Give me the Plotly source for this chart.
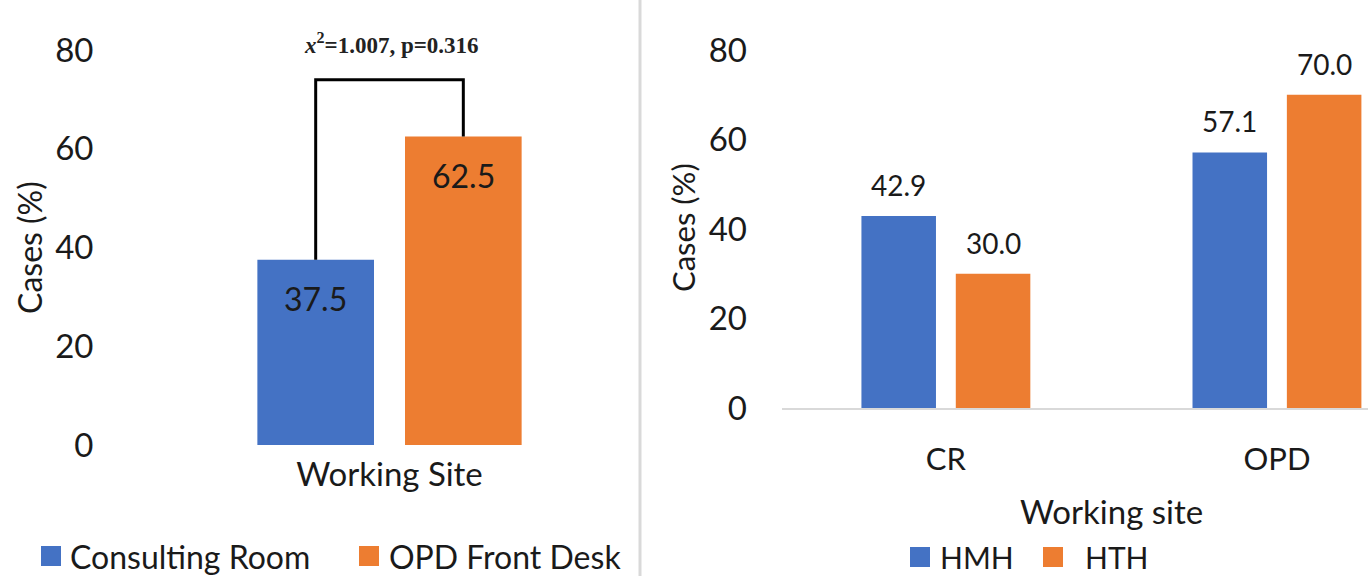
import plotly.graph_objects as go

# ---- data -------------------------------------------------------------
site_category = ["Working Site"]
site_names = ["Consulting Room", "OPD Front Desk"]
site_values = [37.5, 62.5]

hosp_categories = ["CR", "OPD"]
hosp_names = ["HMH", "HTH"]
hmh_values = [42.9, 57.1]
hth_values = [30.0, 70.0]

y_ticks = [0, 20, 40, 60, 80]
stat_text = "<b><i>x</i><sup>2</sup>=1.007, p=0.316</b>"
bracket_top = 74

# ---- styling ----------------------------------------------------------
W, H = 1368, 576
BLUE = "#4472C4"
ORANGE = "#ED7D31"
FONT = "Lato"
TXT = "#1a1a1a"
BARGAP = 0.43
BARGROUPGAP = 0.21

fig = go.Figure()

# left panel
for name, val, col in zip(site_names, site_values, [BLUE, ORANGE]):
    fig.add_trace(go.Bar(x=site_category, y=[val], name=name, marker_color=col,
                         marker_line_width=0, xaxis="x", yaxis="y",
                         showlegend=False))

# right panel
for name, vals, col in zip(hosp_names, [hmh_values, hth_values], [BLUE, ORANGE]):
    fig.add_trace(go.Bar(x=hosp_categories, y=vals, name=name, marker_color=col,
                         marker_line_width=0, xaxis="x2", yaxis="y2",
                         showlegend=False))

# bar-centre offset inside a two-bar group (category units)
off = (1 - BARGAP) / 4


def paper_text(x_px, y_px, text, size, family=FONT, xanchor="center", angle=0, color=TXT):
    return dict(x=x_px / W, y=1 - y_px / H, xref="paper", yref="paper",
                xanchor=xanchor, yanchor="middle", text=text, textangle=angle,
                showarrow=False, font=dict(family=family, size=size, color=color))


annotations = []
# values inside the left bars, near the top
for i, val in enumerate(site_values):
    annotations.append(dict(x=(-off if i == 0 else off), y=val, xref="x", yref="y",
                            yanchor="middle", text=f"{val:.1f}", showarrow=False,
                            yshift=-39, font=dict(family=FONT, size=32, color=TXT)))
# values above the right bars
for i, vals in enumerate([hmh_values, hth_values]):
    for j, val in enumerate(vals):
        annotations.append(dict(x=j + (-off if i == 0 else off), y=val, xref="x2", yref="y2",
                                yanchor="middle", text=f"{val:.1f}", showarrow=False,
                                yshift=31, font=dict(family=FONT, size=28, color=TXT)))

# significance label
annotations.append(paper_text(391, 43, stat_text, 23, family="Liberation Serif", color="#222"))

# y-axis titles
annotations.append(paper_text(29, 248, "Cases (%)", 32, angle=-90))
annotations.append(paper_text(683, 228, "Cases (%)", 31, angle=-90))

# right x-axis title
annotations.append(paper_text(1111, 511, "Working site", 33))

shapes = []
# bracket joining the two left bars
shapes.append(dict(type="path", xref="x", yref="y",
                   path=f"M {-off} {site_values[0]} L {-off} {bracket_top} "
                        f"L {off} {bracket_top} L {off} {site_values[1]}",
                   line=dict(color="black", width=3)))

# panel separator
shapes.append(dict(type="line", xref="paper", yref="paper",
                   x0=640 / W, x1=640 / W, y0=0, y1=1,
                   line=dict(color="#d9d9d9", width=3)))


# legends
def legend_items(items, y_px, size):
    for (sq_x, txt_x, label, col) in items:
        shapes.append(dict(type="rect", xref="paper", yref="paper",
                           x0=sq_x / W, x1=(sq_x + 20) / W,
                           y0=1 - (y_px + 10) / H, y1=1 - (y_px - 10) / H,
                           fillcolor=col, line_width=0))
        annotations.append(paper_text(txt_x, y_px, label, size, xanchor="left"))


legend_items([(41, 68, site_names[0], BLUE), (359, 387, site_names[1], ORANGE)], 556, 32)
legend_items([(910, 938, hosp_names[0], BLUE), (1043, 1083, hosp_names[1], ORANGE)], 557, 30)

axis_font = dict(family=FONT, size=33, color=TXT)

fig.update_layout(
    width=W, height=H,
    margin=dict(l=0, r=0, t=0, b=0, autoexpand=False),
    paper_bgcolor="white", plot_bgcolor="white",
    barmode="group", bargap=BARGAP, bargroupgap=BARGROUPGAP,
    showlegend=False,
    xaxis=dict(domain=[130.5 / W, 648.5 / W], range=[-0.5, 0.5], anchor="y",
               showline=False, showgrid=False, zeroline=False, automargin=False,
               tickfont=axis_font, ticks="", ticklabelstandoff=7),
    yaxis=dict(domain=[(H - 445) / H, (H - 50) / H], range=[0, 80], anchor="x",
               tickvals=y_ticks, showgrid=False, zeroline=False, showline=False,
               automargin=False, tickfont=axis_font, ticks="", ticklabelstandoff=36),
    xaxis2=dict(domain=[782 / W, 1.0], range=[-0.495, 1.275], anchor="y2",
                showline=True, linecolor="#d9d9d9", linewidth=2,
                showgrid=False, zeroline=False, automargin=False,
                tickfont=dict(family=FONT, size=31, color=TXT), ticks="",
                ticklabelstandoff=23),
    yaxis2=dict(domain=[(H - 408) / H, (H - 50) / H], range=[0, 80],
                anchor="x2", tickvals=y_ticks, showgrid=False, zeroline=False,
                showline=False, automargin=False, tickfont=axis_font, ticks="",
                ticklabelstandoff=34),
    annotations=annotations,
    shapes=shapes,
)

fig.write_html("out.html")
